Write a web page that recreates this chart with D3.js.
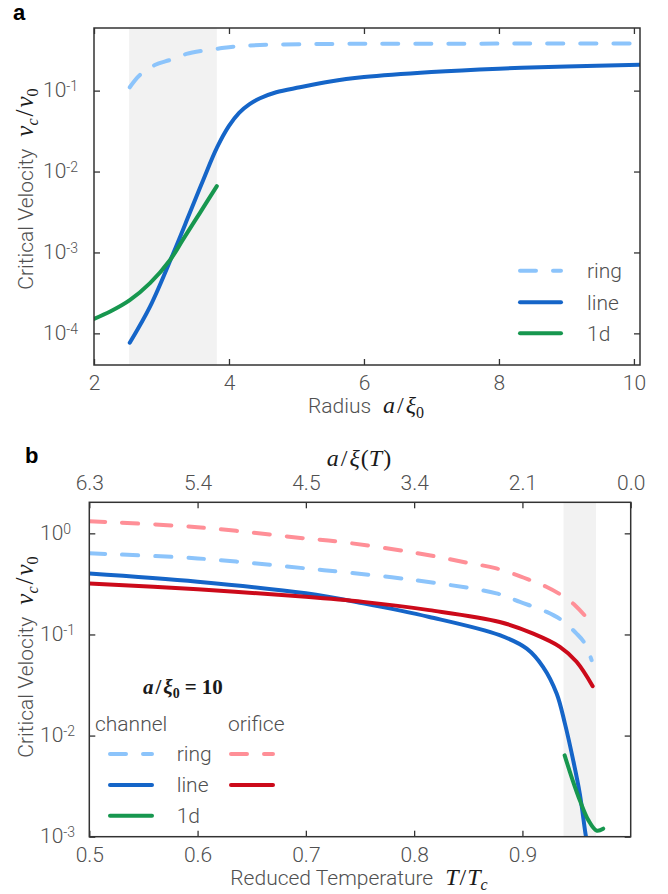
<!DOCTYPE html>
<html>
<head>
<meta charset="utf-8">
<script src="https://cdn.jsdelivr.net/npm/d3@7"></script>
<style>
  body { margin: 0; background: #fff; }
  svg { display: block; }
  .sans { font-family: Roboto, "Liberation Sans", Arial, sans-serif; font-weight: 300; fill: #505050; }
  .math { font-family: "Liberation Serif", "Times New Roman", serif; fill: #1a1a1a; }
  .panel { font-family: "Liberation Sans", Arial, sans-serif; font-weight: bold; fill: #000; }
</style>
</head>
<body>
<svg id="fig" width="668" height="894"></svg>
<script>
// ---------- Panel a: critical velocity against channel radius ----------
const radiusTicks = [2, 4, 6, 8, 10];
const velocityTicksA = [1e-1, 1e-2, 1e-3, 1e-4];
const shadeRadius = [2.52, 3.82];

const ringRadius = [2.53, 2.68, 2.90, 3.13, 3.37, 3.62, 3.87, 4.06, 4.46, 5.05, 6.0, 7.0, 8.0, 9.0, 10.09];
const ringVc     = [0.110, 0.156, 0.207, 0.240, 0.284, 0.312, 0.333, 0.349, 0.366, 0.375, 0.379, 0.380, 0.381, 0.382, 0.382];

const lineRadius = [2.53, 2.83, 3.175, 3.42, 3.62, 3.82, 4.0, 4.15, 4.3, 4.46, 4.7, 5.05, 5.5, 6.0, 7.0, 8.0, 9.0, 10.09];
const lineVc     = [7.66e-5, 2.14e-4, 9.8e-4, 3.09e-3, 7.94e-3, 0.0196, 0.0366, 0.0531, 0.0676, 0.0805, 0.0955, 0.110, 0.130, 0.147, 0.170, 0.187, 0.199, 0.209];

const oneDRadius = [2.0, 2.24, 2.53, 2.83, 3.13, 3.32, 3.57, 3.82];
const oneDVc     = [1.51e-4, 1.86e-4, 2.57e-4, 4.17e-4, 8.13e-4, 1.45e-3, 3.09e-3, 6.61e-3];

const legendA = ["ring", "line", "1d"];

// ---------- Panel b: critical velocity against reduced temperature ----------
const tempTicks = [0.5, 0.6, 0.7, 0.8, 0.9];
const coherenceTemps  = [0.5, 0.6, 0.7, 0.8, 0.9, 1.0];
const coherenceLabels = ["6.3", "5.4", "4.5", "3.4", "2.1", "0.0"];
const velocityTicksB = [1e0, 1e-1, 1e-2, 1e-3];
const shadeTemp = [0.938, 0.968];

const chRingT  = [0.5, 0.6, 0.7, 0.731, 0.8, 0.876, 0.8977, 0.9224, 0.936, 0.950, 0.9577, 0.9639];
const chRingVc = [0.634, 0.565, 0.45, 0.417, 0.345, 0.255, 0.21, 0.167, 0.139, 0.102, 0.0815, 0.0557];

const chLineT  = [0.5, 0.6, 0.7, 0.753, 0.814, 0.879, 0.904, 0.919, 0.9316, 0.9392, 0.9469, 0.953, 0.9587, 0.961];
const chLineVc = [0.40, 0.332, 0.255, 0.203, 0.149, 0.0984, 0.0724, 0.0479, 0.0261, 0.0132, 5.69e-3, 2.66e-3, 1.0e-3, 7.5e-4];

const orRingT  = [0.5, 0.6, 0.7, 0.731, 0.8, 0.85, 0.876, 0.907, 0.922, 0.936, 0.9485, 0.959];
const orRingVc = [1.32, 1.15, 0.89, 0.826, 0.645, 0.51, 0.45, 0.345, 0.296, 0.245, 0.195, 0.148];

const orLineT  = [0.5, 0.6, 0.7, 0.753, 0.814, 0.879, 0.91, 0.9346, 0.950, 0.9649];
const orLineVc = [0.32, 0.28, 0.236, 0.21, 0.174, 0.133, 0.102, 0.0755, 0.0537, 0.0308];

const oneDT  = [0.939, 0.9454, 0.953, 0.961, 0.9685, 0.9746];
const oneDVcB = [6.38e-3, 3.89e-3, 2.29e-3, 1.45e-3, 1.15e-3, 1.2e-3];

const legendB = ["ring", "line", "1d"];

// ---------- styles ----------
const C = {
  lightBlue: "#8cc4fb",
  blue: "#1565c8",
  green: "#17974f",
  red: "#cc0a1a",
  pink: "#ff8f97",
  shade: "#f2f2f2",
  frame: "#333"
};
const DASH = "16 17";
const LW = 4;

const svg = d3.select("#fig");

function decadeLabels(g, xStart) {
  g.selectAll(".tick text").each(function (d) {
    const t = d3.select(this);
    const e = Math.round(Math.log10(d));
    t.text(null).attr("x", xStart).attr("y", 6).attr("dy", null)
      .attr("text-anchor", "start").attr("class", "sans").attr("font-size", 21);
    t.append("tspan").text("10");
    t.append("tspan").attr("font-size", 14).attr("dy", -6).text(e === 0 ? "0" : "-" + (-e));
  });
}

function styleAxis(g) {
  g.select(".domain").remove();
  g.selectAll(".tick line").attr("stroke", C.frame).attr("stroke-width", 1.3);
  g.selectAll(".tick text").attr("fill", null);
  g.attr("font-family", null).attr("font-size", null);
}

function drawPanel(cfg) {
  const { L, T, R, B, x, y, id } = cfg;
  const g = svg.append("g");
  g.append("clipPath").attr("id", id).append("rect")
    .attr("x", L).attr("y", T).attr("width", R - L).attr("height", B - T);
  const plot = g.append("g").attr("clip-path", `url(#${id})`);
  plot.append("rect")
    .attr("x", x(cfg.shade[0])).attr("y", T)
    .attr("width", x(cfg.shade[1]) - x(cfg.shade[0])).attr("height", B - T)
    .attr("fill", C.shade);
  const line = d3.line().x(d => x(d[0])).y(d => y(d[1])).curve(d3.curveCatmullRom.alpha(0.5));
  cfg.series.forEach(s => {
    plot.append("path")
      .attr("d", line(d3.zip(s.x, s.y)))
      .attr("fill", "none").attr("stroke", s.color).attr("stroke-width", LW)
      .attr("stroke-linecap", "round").attr("stroke-linejoin", "round")
      .attr("stroke-dasharray", s.dash ? DASH : null);
  });
  // axes with inward ticks
  const bottom = g.append("g").attr("transform", `translate(0,${B})`)
    .call(d3.axisBottom(x).tickValues(cfg.xTicks).tickSizeInner(-6).tickSizeOuter(0)
      .tickPadding(10).tickFormat(cfg.xFormat));
  styleAxis(bottom);
  bottom.selectAll(".tick text").attr("class", "sans").attr("font-size", 21);
  const top = g.append("g").attr("transform", `translate(0,${T})`)
    .call(cfg.topAxis);
  styleAxis(top);
  top.selectAll(".tick text").attr("class", "sans").attr("font-size", 21);
  const left = g.append("g").attr("transform", `translate(${L},0)`)
    .call(d3.axisLeft(y).tickValues(cfg.yTicks).tickSizeInner(-6).tickSizeOuter(0));
  styleAxis(left);
  decadeLabels(left, cfg.yLabelX - L);
  const right = g.append("g").attr("transform", `translate(${R},0)`)
    .call(d3.axisRight(y).tickValues(cfg.yTicks).tickSizeInner(-6).tickSizeOuter(0).tickFormat(""));
  styleAxis(right);
  g.append("rect").attr("x", L).attr("y", T).attr("width", R - L).attr("height", B - T)
    .attr("fill", "none").attr("stroke", C.frame).attr("stroke-width", 1.5);
  return g;
}

function legendRow(g, x0, x1, yy, color, dash) {
  g.append("line").attr("x1", x0 + 2).attr("x2", x1 - 2).attr("y1", yy).attr("y2", yy)
    .attr("stroke", color).attr("stroke-width", LW).attr("stroke-linecap", "round")
    .attr("stroke-dasharray", dash ? DASH : null);
}

// math helper: parts = [text, italic, size, dx, dy]
function mathSpans(t, parts) {
  parts.forEach(([txt, it, size, dx, dy]) => {
    const s = t.append("tspan").attr("class", "math").attr("font-size", size).text(txt);
    if (it) s.attr("font-style", "italic");
    if (dx) s.attr("dx", dx);
    if (dy) s.attr("dy", dy);
  });
}

function yTitle(g, cx, cy) {
  const t = g.append("text").attr("transform", `translate(${cx},${cy}) rotate(-90)`)
    .attr("text-anchor", "middle");
  t.append("tspan").attr("class", "sans").attr("font-size", 21).text("Critical Velocity");
  mathSpans(t, [
    ["v", true, 25, 12, 0],
    ["c", true, 16, 0, 5],
    ["/", false, 25, 2, -5],
    ["v", true, 25, 2, 0],
    ["0", false, 16, 0, 5]
  ]);
}

// ---------- Panel a ----------
{
  const L = 94, T = 28, R = 640, B = 365;
  const x = d3.scaleLinear().domain([2, 10.09]).range([L, R]);
  const y = d3.scaleLog().domain([Math.pow(10, -4.391), Math.pow(10, -0.226)]).range([B, T]);
  const g = drawPanel({
    id: "clipA", L, T, R, B, x, y, shade: shadeRadius,
    xTicks: radiusTicks, xFormat: d3.format("d"), yTicks: velocityTicksA, yLabelX: 43,
    topAxis: d3.axisTop(x).tickValues(radiusTicks).tickSizeInner(-6).tickSizeOuter(0).tickFormat(""),
    series: [
      { x: ringRadius, y: ringVc, color: C.lightBlue, dash: true },
      { x: lineRadius, y: lineVc, color: C.blue },
      { x: oneDRadius, y: oneDVc, color: C.green }
    ]
  });
  g.append("text").attr("class", "panel").attr("x", 13).attr("y", 20).attr("font-size", 22).text("a");
  yTitle(g, 33, 189);
  const xt = g.append("text").attr("x", (L + R) / 2 - 1).attr("y", 413).attr("text-anchor", "middle");
  xt.append("tspan").attr("class", "sans").attr("font-size", 21).text("Radius");
  mathSpans(xt, [
    ["a", true, 24, 12, 0],
    ["/", false, 24, 2, 0],
    ["ξ", true, 24, 2, 0],
    ["0", false, 16, 0, 5]
  ]);

  const colors = [C.lightBlue, C.blue, C.green];
  const rows = [270.7, 302.3, 333.3];
  legendA.forEach((name, i) => {
    legendRow(g, 518, 563, rows[i], colors[i], i === 0);
    g.append("text").attr("class", "sans").attr("font-size", 21)
      .attr("x", 587).attr("y", rows[i] + 7.5).text(name);
  });
}

// ---------- Panel b ----------
{
  const L = 89.3, T = 502.3, R = 630.7, B = 836.7;
  const x = d3.scaleLinear().domain([0.5, 1.0]).range([L, R]);
  const y = d3.scaleLog().domain([1e-3, Math.pow(10, 0.307)]).range([B, T]);
  const topAxis = d3.axisTop(x).tickValues(coherenceTemps).tickSizeInner(-6).tickSizeOuter(0)
    .tickPadding(12).tickFormat((d, i) => coherenceLabels[i]);
  const g = drawPanel({
    id: "clipB", L, T, R, B, x, y, shade: shadeTemp,
    xTicks: tempTicks, xFormat: d3.format(".1f"), yTicks: velocityTicksB, yLabelX: 40,
    topAxis,
    series: [
      { x: chRingT, y: chRingVc, color: C.lightBlue, dash: true },
      { x: chLineT, y: chLineVc, color: C.blue },
      { x: orRingT, y: orRingVc, color: C.pink, dash: true },
      { x: orLineT, y: orLineVc, color: C.red },
      { x: oneDT, y: oneDVcB, color: C.green }
    ]
  });
  g.append("text").attr("class", "panel").attr("x", 25).attr("y", 463).attr("font-size", 22).text("b");
  yTitle(g, 33, 657);

  const tt = g.append("text").attr("x", 359).attr("y", 466).attr("text-anchor", "middle");
  mathSpans(tt, [
    ["a", true, 24, 0, 0],
    ["/", false, 24, 2, 0],
    ["ξ", true, 24, 2, 0],
    ["(", false, 24, 1, 0],
    ["T", true, 24, 0, 0],
    [")", false, 24, 1, 0]
  ]);

  const xt = g.append("text").attr("x", 359).attr("y", 885).attr("text-anchor", "middle");
  xt.append("tspan").attr("class", "sans").attr("font-size", 21).text("Reduced Temperature");
  mathSpans(xt, [
    ["T", true, 24, 12, 0],
    ["/", false, 24, 1, 0],
    ["T", true, 24, 1, 0],
    ["c", true, 16, 0, 5]
  ]);

  // legend block
  const lt = g.append("text").attr("x", 143).attr("y", 694).attr("font-weight", "bold");
  mathSpans(lt, [
    ["a", true, 21, 0, 0],
    ["/", false, 21, 2, 0],
    ["ξ", true, 21, 2, 0],
    ["0", false, 14, 0, 4],
    ["=", false, 21, 5, -4],
    ["10", false, 21, 5, 0]
  ]);

  g.append("text").attr("class", "sans").attr("font-size", 21).attr("x", 95).attr("y", 731).text("channel");
  g.append("text").attr("class", "sans").attr("font-size", 21).attr("x", 228).attr("y", 731).text("orifice");
  const rows = [754, 785, 815.7];
  const chColors = [C.lightBlue, C.blue, C.green];
  legendB.forEach((name, i) => {
    legendRow(g, 108, 154, rows[i], chColors[i], i === 0);
    g.append("text").attr("class", "sans").attr("font-size", 21)
      .attr("x", 176.7).attr("y", rows[i] + 7).text(name);
  });
  legendRow(g, 229, 275, rows[0], C.pink, true);
  legendRow(g, 229, 275, rows[1], C.red, false);
}
</script>
</body>
</html>
